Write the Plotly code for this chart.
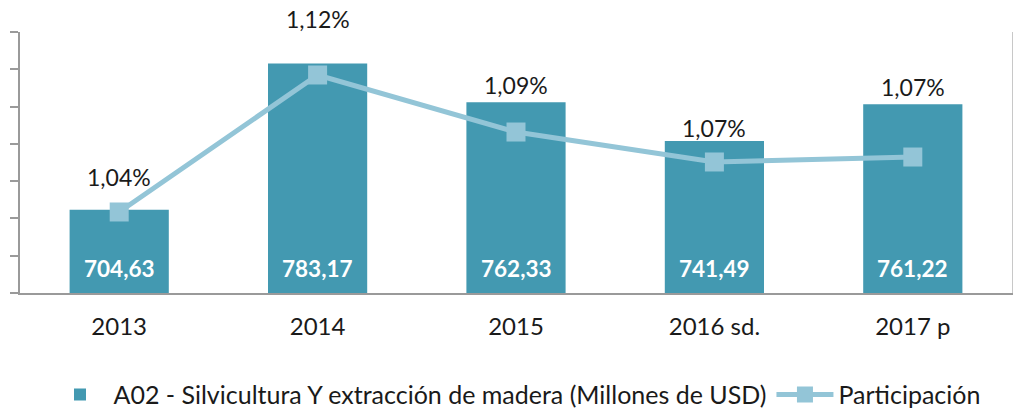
import plotly.graph_objects as go

years = ["2013", "2014", "2015", "2016 sd.", "2017 p"]
produccion = [704.63, 783.17, 762.33, 741.49, 761.22]
participacion = [1.0400, 1.1200, 1.0867, 1.0692, 1.0721]
pct_labels = ["1,04%", "1,12%", "1,09%", "1,07%", "1,07%"]
bar_labels = ["704,63", "783,17", "762,33", "741,49", "761,22"]
pct_label_shift = [33, 44, 17, 13, 17]

BAR = "#4399B1"
LINE = "#93C5D7"
AXIS = "#9A9A9A"
FONT = "Lato"

fig = go.Figure()
fig.add_trace(go.Bar(
    x=years, y=produccion, name="A02 - Silvicultura Y extracción de madera (Millones de USD)",
    marker=dict(color=BAR, line=dict(width=0)), width=0.5, yaxis="y",
))
fig.add_trace(go.Scatter(
    x=years, y=participacion, name="Participación", yaxis="y2",
    mode="lines+markers",
    line=dict(color=LINE, width=5),
    marker=dict(symbol="square", size=19, color=LINE),
))

annotations = []
for i, (v, lab) in enumerate(zip(produccion, bar_labels)):
    annotations.append(dict(x=i, y=660, xref="x", yref="y", text=f"<b>{lab}</b>",
                            showarrow=False, yanchor="middle", yshift=25,
                            font=dict(family=FONT, size=22.5, color="white")))
for i, (v, lab, s) in enumerate(zip(produccion, pct_labels, pct_label_shift)):
    annotations.append(dict(x=i, y=v, xref="x", yref="y", text=lab,
                            showarrow=False, yanchor="middle", yshift=s,
                            font=dict(family=FONT, size=23, color="#1a1a1a")))

fig.update_layout(
    width=1013, height=409,
    margin=dict(l=20, r=1, t=32, b=116, autoexpand=False),
    paper_bgcolor="white", plot_bgcolor="white",
    font=dict(family=FONT, size=23, color="#1a1a1a"),
    bargap=0.5,
    showlegend=True,
    legend=dict(orientation="h", x=0.5, xanchor="center", y=-0.39, yanchor="middle",
                font=dict(family=FONT, size=25, color="#1a1a1a"), itemwidth=57,
                traceorder="normal"),
    xaxis=dict(type="category", categoryorder="array", categoryarray=years,
               range=[-0.5, len(years) - 0.5], automargin=False,
               showline=True, linecolor=AXIS, linewidth=1.5, ticks="",
               showgrid=False, tickfont=dict(family=FONT, size=24, color="#1a1a1a"),
               ticklabelstandoff=11),
    yaxis=dict(range=[660, 800], dtick=20, showline=True, linecolor=AXIS, linewidth=1.5,
               ticks="outside", ticklen=8, tickcolor=AXIS, tickwidth=1.5, automargin=False,
               showticklabels=False, showgrid=False, zeroline=False),
    yaxis2=dict(range=[0.9927, 1.1451], overlaying="y", side="right", showline=True,
                linecolor="#C8C8C8", linewidth=1, showticklabels=False, ticks="",
                automargin=False, showgrid=False, zeroline=False),
    annotations=annotations,
)

fig.write_html(
    "out.html",
    config={"displayModeBar": False},
    post_script="document.body.style.margin='0';document.body.style.padding='0';"
                "document.body.style.overflow='hidden';",
)
